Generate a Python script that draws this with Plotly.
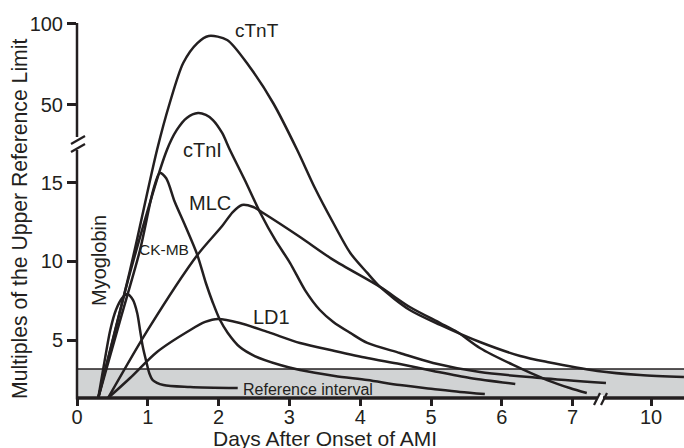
import plotly.graph_objects as go

# ---------------- data: days after onset of AMI / multiples of upper reference limit ----------------
MYOGLOBIN_DAYS = [0.30, 0.38, 0.47, 0.55, 0.64, 0.71, 0.79, 0.85, 0.89, 0.93, 0.98, 1.02, 1.07, 1.22, 1.60, 2.27]
MYOGLOBIN_VALS = [1.31, 3.41, 5.64, 6.91, 7.68, 7.93, 7.55, 6.72, 5.64, 4.55, 3.60, 2.90, 2.45, 2.13, 2.01, 1.94]

CKMB_DAYS = [0.30, 0.61, 0.89, 1.08, 1.17, 1.26, 1.38, 1.53, 1.70, 1.82, 1.92, 2.02, 2.13, 2.30, 2.51, 2.87,
             3.15, 3.64, 4.10, 4.56, 5.03, 5.41, 5.76]
CKMB_VALS = [1.31, 6.27, 10.73, 14.60, 15.64, 15.30, 13.80, 12.26, 10.41, 8.63, 7.36, 6.27, 5.45, 4.55, 3.98, 3.41,
             3.09, 2.71, 2.45, 2.13, 1.88, 1.69, 1.56]

CTNT_DAYS = [0.30, 0.75, 1.13, 1.31, 1.50, 1.70, 1.86, 2.12, 2.44, 2.77, 3.11, 3.36, 3.62, 3.86, 4.10, 4.28,
             4.70, 5.13, 5.69, 6.26, 6.64, 7.35, 9.43, 11.71]
CTNT_VALS = [1.31, 9.46, 22.2, 51.2, 75.9, 88.2, 92.6, 90.1, 73.4, 51.2, 22.2, 14.68, 12.45, 10.54, 9.27, 8.38,
             6.91, 5.96, 4.87, 3.98, 3.60, 3.03, 2.77, 2.64]

CTNI_DAYS = [0.30, 0.76, 1.27, 1.41, 1.55, 1.71, 1.82, 1.92, 2.05, 2.16, 2.37, 2.59, 2.80, 3.01, 3.22, 3.43,
             3.62, 3.86, 4.10, 4.56, 5.03, 5.69, 6.54, 7.66]
CTNI_VALS = [1.31, 9.46, 22.2, 34.6, 42.0, 45.0, 43.8, 40.7, 32.7, 22.2, 15.19, 13.09, 11.37, 9.90, 8.18, 6.91,
             6.15, 5.45, 4.81, 4.17, 3.54, 2.96, 2.58, 2.26]

MLC_DAYS = [0.44, 1.00, 1.70, 2.05, 2.20, 2.33, 2.49, 2.63, 3.15, 3.62, 4.28, 4.70, 5.13, 5.37, 5.69, 6.16,
            6.64, 6.96, 7.20]
MLC_VALS = [1.31, 5.64, 10.41, 12.26, 13.15, 13.60, 13.47, 13.09, 11.56, 10.10, 8.38, 7.10, 6.08, 5.51, 4.49, 3.41,
            2.45, 1.94, 1.62]

LD1_DAYS = [0.44, 0.75, 1.13, 1.60, 1.81, 1.99, 2.30, 2.73, 3.15, 3.64, 4.10, 4.56, 5.03, 5.55, 6.19]
LD1_VALS = [1.31, 2.58, 4.24, 5.64, 6.15, 6.34, 6.08, 5.45, 4.81, 4.30, 3.85, 3.47, 3.03, 2.58, 2.20]

REFERENCE_UPPER = 3.15

X_TICK_DAYS = [0, 1, 2, 3, 4, 5, 6, 7, 10]
X_TICK_TEXT = ["0", "1", "2", "3", "4", "5", "6", "7", "10"]
Y_TICK_VALUES = [5, 10, 15, 50, 100]
Y_TICK_TEXT = ["5", "10", "15", "50", "100"]

# ---------------- broken-axis scales ----------------
X_BREAK = 7.4
X_K = 0.272                     # compression beyond the x break
Y_UP_OFF = 14.81                # upper (compressed) y segment
Y_UP_K = 0.1032
Y_JOIN = Y_UP_OFF / (1 - Y_UP_K)


def xmap(d):
    return d if d <= X_BREAK else X_BREAK + (d - X_BREAK) * X_K


def ymap(v):
    return v if v <= Y_JOIN else Y_UP_OFF + Y_UP_K * v


X_RANGE = [0, 8.573]
Y_RANGE = [1.306, 25.38]

INK = "#231f20"
FONT = "Liberation Sans, Arial, Helvetica, sans-serif"
BAND = "#d1d3d4"

W, H = 684, 448
PL, PR, PT, PB = 77, 684, 20, 398


def px(xp):
    return (xp - PL) / (PR - PL)


def py(yp):
    return (PB - yp) / (PB - PT)


fig = go.Figure()

curves = [
    (MYOGLOBIN_DAYS, MYOGLOBIN_VALS),
    (CKMB_DAYS, CKMB_VALS),
    (LD1_DAYS, LD1_VALS),
    (MLC_DAYS, MLC_VALS),
    (CTNI_DAYS, CTNI_VALS),
    (CTNT_DAYS, CTNT_VALS),
]
for days, vals in curves:
    fig.add_trace(go.Scatter(
        x=[xmap(d) for d in days],
        y=[ymap(v) for v in vals],
        mode="lines",
        line=dict(color=INK, width=2.5, shape="spline", smoothing=0.8),
        hoverinfo="skip",
        showlegend=False,
    ))

shapes = []
# reference interval band
shapes.append(dict(type="rect", xref="paper", yref="y", x0=0, x1=1, y0=Y_RANGE[0], y1=REFERENCE_UPPER,
                   fillcolor=BAND, line=dict(width=0), layer="below"))
shapes.append(dict(type="line", xref="paper", yref="y", x0=0, x1=1, y0=REFERENCE_UPPER, y1=REFERENCE_UPPER,
                   line=dict(color=INK, width=1.5), layer="below"))
# x axis line
shapes.append(dict(type="line", xref="paper", yref="paper", x0=0, x1=1, y0=0, y1=0,
                   line=dict(color=INK, width=3.5), layer="above"))
# y axis, two segments around the break
shapes.append(dict(type="line", xref="paper", yref="paper", x0=0, x1=0, y0=py(399.5), y1=py(150),
                   line=dict(color=INK, width=2.5), layer="above"))
shapes.append(dict(type="line", xref="paper", yref="paper", x0=0, x1=0, y0=py(137), y1=py(23),
                   line=dict(color=INK, width=2.5), layer="above"))
# y break marks
for y0 in (144, 152):
    shapes.append(dict(type="line", xref="paper", yref="paper", x0=px(71), x1=px(85), y0=py(y0), y1=py(y0 - 8),
                       line=dict(color=INK, width=2.2), layer="above"))
# x break marks
shapes.append(dict(type="rect", xref="paper", yref="paper", x0=px(597), x1=px(603), y0=py(401), y1=py(395),
                   fillcolor="white", line=dict(width=0), layer="above"))
for x0 in (594, 601):
    shapes.append(dict(type="line", xref="paper", yref="paper", x0=px(x0), x1=px(x0 + 6), y0=py(405), y1=py(393),
                       line=dict(color=INK, width=2.2), layer="above"))


def label(text, x, y, size, angle=0):
    return dict(text=text, x=px(x), y=py(y), xref="paper", yref="paper", showarrow=False,
                xanchor="center", yanchor="middle", textangle=angle,
                font=dict(family=FONT, size=size, color=INK))


annotations = [
    label("cTnT", 256.5, 30, 19),
    label("cTnI", 202, 150, 20),
    label("MLC", 210, 203, 20),
    label("CK-MB", 164, 249, 15.5),
    label("Myoglobin", 99, 261, 20, -90),
    label("LD1", 271.5, 317, 20),
    label("Reference interval", 307.5, 389, 16),
    label("Days After Onset of AMI", 325, 439, 21),
    label("Multiples of the Upper Reference Limit", 20, 219, 21.2, -90),
]

fig.update_layout(
    width=W, height=H,
    margin=dict(l=PL, r=W - PR, t=PT, b=H - PB),
    paper_bgcolor="white", plot_bgcolor="white",
    showlegend=False,
    shapes=shapes,
    annotations=annotations,
    xaxis=dict(range=X_RANGE, showline=False, showgrid=False, zeroline=False,
               ticks="outside", ticklen=7, tickwidth=2.5, tickcolor=INK,
               tickvals=[xmap(d) for d in X_TICK_DAYS], ticktext=X_TICK_TEXT,
               ticklabelstandoff=-6,
               tickfont=dict(family=FONT, size=20, color=INK), fixedrange=True),
    yaxis=dict(range=Y_RANGE, showline=False, showgrid=False, zeroline=False,
               ticks="outside", ticklen=9, tickwidth=2.5, tickcolor=INK,
               tickvals=[ymap(v) for v in Y_TICK_VALUES], ticktext=Y_TICK_TEXT,
               tickfont=dict(family=FONT, size=20, color=INK), fixedrange=True),
)

fig.write_html("out.html", config={"displayModeBar": False},
               post_script="document.body.style.margin='0';document.body.style.padding='0';")
